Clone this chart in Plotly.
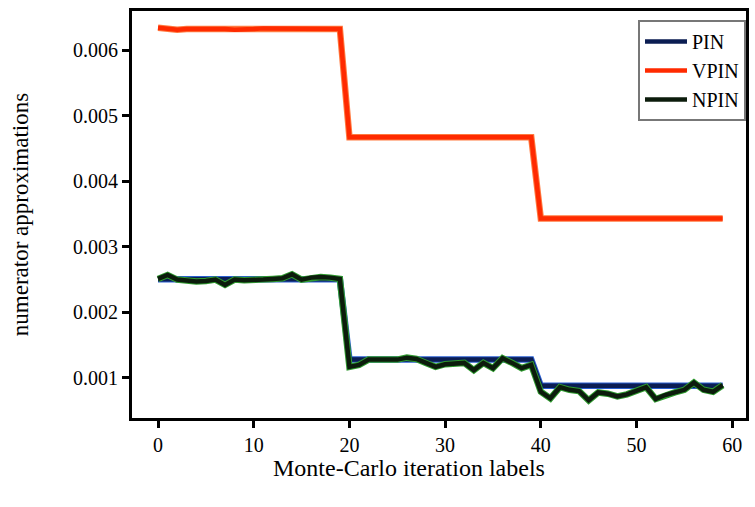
import plotly.graph_objects as go

# Monte-Carlo iteration index
iterations = list(range(60))

# PIN: theoretical numerator, piecewise constant over three regimes
pin = [0.002505] * 20 + [0.00128] * 20 + [0.00088] * 20

# VPIN numerator approximations
vpin = [0.00634, 0.00632, 0.00631, 0.00632, 0.00632, 0.00633, 0.00632, 0.00632, 0.00631, 0.00631,
        0.00632, 0.00633, 0.00633, 0.00632, 0.00632, 0.00632, 0.00633, 0.00632, 0.00633, 0.00632] \
    + [0.00467] * 20 + [0.00343] * 20

# NPIN numerator approximations
npin = [0.00251, 0.00257, 0.00250, 0.00248, 0.00247, 0.00248, 0.00250, 0.00242, 0.00250, 0.00249,
        0.00249, 0.00250, 0.00251, 0.00252, 0.00258, 0.00250, 0.00253, 0.00254, 0.00253, 0.00251,
        0.00117, 0.00120, 0.00128, 0.00128, 0.00129, 0.00128, 0.00131, 0.00129, 0.00123, 0.00117,
        0.00121, 0.00122, 0.00123, 0.00112, 0.00123, 0.00115, 0.00130, 0.00123, 0.00115, 0.00120,
        0.00079, 0.00069, 0.00086, 0.00082, 0.00080, 0.00066, 0.00078, 0.00076, 0.00072, 0.00075,
        0.00081, 0.00086, 0.00068, 0.00074, 0.00078, 0.00082, 0.00093, 0.00082, 0.00079, 0.00089]

x_ticks = [0, 10, 20, 30, 40, 50, 60]
y_ticks = [0.001, 0.002, 0.003, 0.004, 0.005, 0.006]
y_tick_text = ["0.001", "0.002", "0.003", "0.004", "0.005", "0.006"]

FONT = "Liberation Serif, Times New Roman, serif"

series = [
    ("PIN", pin, "#0b1d52", "#2a5fd0"),
    ("VPIN", vpin, "#ff2a00", "#ff7a40"),
    ("NPIN", npin, "#0c1c0c", "#2f9a2f"),
]

fig = go.Figure()
for name, vals, core, halo in series:
    # soft coloured edge under each line
    fig.add_trace(go.Scatter(x=iterations, y=vals, mode="lines", legendgroup=name,
                             showlegend=False, hoverinfo="skip",
                             line=dict(color=halo, width=6.5)))
    fig.add_trace(go.Scatter(x=iterations, y=vals, mode="lines", name=name, legendgroup=name,
                             line=dict(color=core, width=4.5)))

axis_common = dict(
    showline=True, linecolor="black", linewidth=3, mirror=True,
    ticks="outside", ticklen=7, tickwidth=3, tickcolor="black",
    showgrid=False, zeroline=False,
    tickfont=dict(family=FONT, size=20, color="black"),
)

fig.update_layout(
    width=755, height=507,
    margin=dict(l=132, r=9, t=11, b=89, autoexpand=False),
    paper_bgcolor="white", plot_bgcolor="white",
    font=dict(family=FONT, color="black"),
    xaxis=dict(range=[-2.72, 61.44], tickvals=x_ticks, **axis_common),
    yaxis=dict(range=[0.00039, 0.006595], tickvals=y_ticks, ticktext=y_tick_text,
               title=dict(text="numerator approximations",
                          font=dict(family=FONT, size=23), standoff=38),
               **axis_common),
    legend=dict(x=1.0, xanchor="right", y=0.978, yanchor="top",
                bgcolor="white", bordercolor="#777777", borderwidth=2,
                font=dict(family=FONT, size=20, color="black"),
                tracegroupgap=0, itemwidth=42),
    showlegend=True,
    annotations=[dict(text="Monte-Carlo iteration labels", xref="paper", yref="paper",
                      x=0.451, y=-0.123, xanchor="center", yanchor="middle",
                      showarrow=False, font=dict(family=FONT, size=24, color="black"))],
)

fig.write_html("out.html")
